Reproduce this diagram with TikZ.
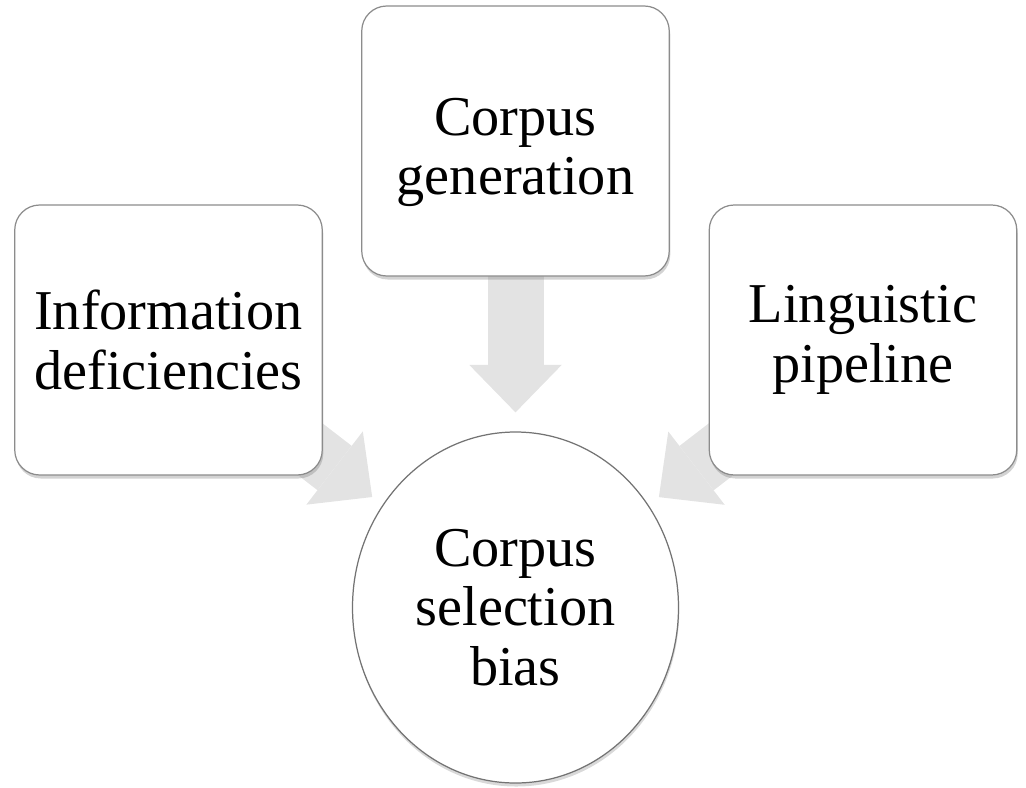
\documentclass[tikz,border=0pt]{standalone}
\usepackage{fontspec}
\setmainfont{Liberation Serif}
\usetikzlibrary{arrows.meta,backgrounds,shapes.geometric,shadows}

\begin{document}
\begin{tikzpicture}
      \tikzstyle{bnode} = [draw=black!45, line width=0.7pt, fill=white, rectangle, rounded corners=0.5cm, minimum width=6.15cm, minimum height=5.4cm, align=center, font=\fontsize{32}{34}\selectfont, drop shadow={shadow xshift=0.6pt, shadow yshift=-2pt, opacity=0.35}]
      \tikzstyle{enode} = [draw=black!55, line width=0.7pt, fill=white, ellipse, inner sep=0pt, minimum width=6.52cm, minimum height=7.02cm, align=center, font=\fontsize{32}{34}\selectfont, drop shadow={shadow xshift=0.4pt, shadow yshift=-2pt, opacity=0.3}]
      \tikzstyle{barrow} = [line width=1.12cm, draw=black!11, -{Triangle[length=0.95cm, width=1.85cm, line width=0pt]}]

      \useasboundingbox (0,0) rectangle (20.52,-15.76);

      %%%%%%%%%%%%%%%%%%%%%%%%%%%%%% 
      %% The three causes
      %%%%%%%%%%%%%%%%%%%%%%%%%%%%%% 
      \node[bnode] (info) at (3.37,-6.80) {Information\\deficiencies};
      \node[bnode, text height=2.4cm] (gen) at (10.31,-2.82) {Corpus\\generation};
      \node[bnode] (ling) at (17.26,-6.80) {Linguistic\\pipeline};

      %%%%%%%%%%%%%%%%%%%%%%%%%%%%%% 
      %% The effect
      %%%%%%%%%%%%%%%%%%%%%%%%%%%%%% 
      \node[enode] (bias) at (10.31,-12.15) {Corpus\\selection\\bias};

      % block arrows behind the boxes
      \begin{scope}[on background layer]
        \draw[barrow, shorten >=0.38cm] (gen.center) -- (bias);
        \draw[barrow, shorten >=0.26cm] (info.center) -- (bias);
        \draw[barrow, shorten >=0.26cm] (ling.center) -- (bias);
      \end{scope}

\end{tikzpicture}
\end{document}
